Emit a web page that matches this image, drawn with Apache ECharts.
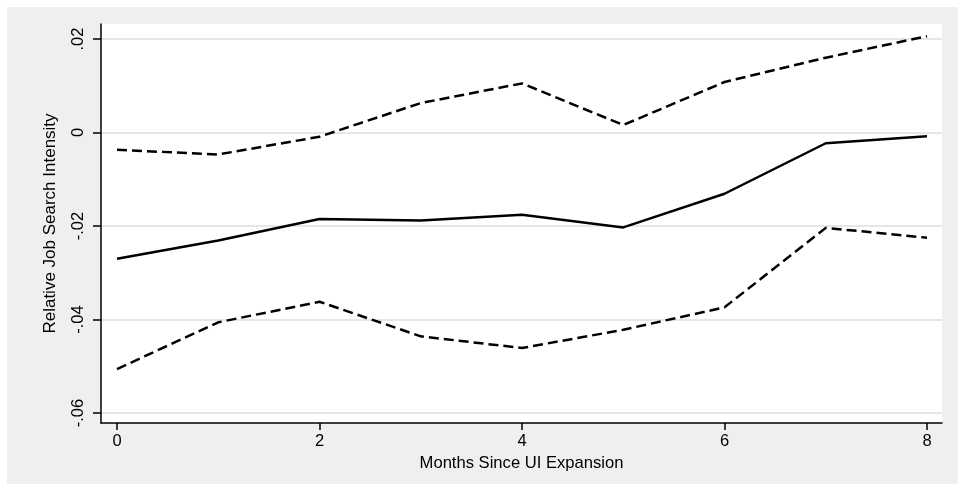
<!DOCTYPE html>
<html>
<head>
<meta charset="utf-8">
<script src="https://cdn.jsdelivr.net/npm/echarts@6/dist/echarts.min.js"></script>
<style>
  html, body { margin: 0; padding: 0; background: #ffffff; }
  #chart { width: 958px; height: 484px; }
</style>
</head>
<body>
<div id="chart"></div>
<script>
// Months since the UI expansion (x values)
const months = [0, 1, 2, 3, 4, 5, 6, 7, 8];
// Point estimate of relative job search intensity
const estimate = [-0.0270, -0.0231, -0.0185, -0.0188, -0.0176, -0.0203, -0.0131, -0.0023, -0.0008];
// Upper and lower confidence bounds
const upperBound = [-0.0037, -0.0047, -0.0009, 0.0063, 0.0105, 0.0016, 0.0108, 0.0160, 0.0206];
const lowerBound = [-0.0506, -0.0406, -0.0362, -0.0436, -0.0461, -0.0422, -0.0374, -0.0204, -0.0225];
// Axis tick values
const yTicks = [-0.06, -0.04, -0.02, 0, 0.02];
const xTicks = [0, 2, 4, 6, 8];

function pairs(ys) {
  return months.map((m, i) => [m, ys[i]]);
}

// Stata-style number labels: ".02", "-.04", "0"
function fmtY(v) {
  const r = Math.round(v * 100) / 100;
  if (r === 0) return '0';
  const s = Math.abs(r).toFixed(2).replace(/^0/, '');
  return (r < 0 ? '-' : '') + s;
}

const FONT = 'Liberation Sans, Arial, sans-serif';
const chart = echarts.init(document.getElementById('chart'), null, { renderer: 'canvas' });

chart.setOption({
  backgroundColor: '#ffffff',
  animation: false,
  graphic: [{
    type: 'rect',
    z: -10,
    shape: { x: 7, y: 7, width: 951, height: 477 },
    style: { fill: '#efefef' }
  }],
  grid: {
    left: 101, right: 16, top: 24, bottom: 61,
    show: true, backgroundColor: '#ffffff', borderWidth: 0
  },
  xAxis: {
    type: 'value',
    min: -0.158, max: 8.148,
    name: 'Months Since UI Expansion',
    nameLocation: 'middle',
    nameGap: 28,
    nameTextStyle: { fontFamily: FONT, fontSize: 16.6, color: '#000' },
    axisLine: { show: true, onZero: false, lineStyle: { color: '#000', width: 1.5 } },
    axisTick: { show: true, length: 7, customValues: xTicks, lineStyle: { color: '#000', width: 1.5 } },
    axisLabel: { customValues: xTicks, margin: 10, fontFamily: FONT, fontSize: 16.5, color: '#000' },
    splitLine: { show: false }
  },
  yAxis: {
    type: 'value',
    min: -0.06214, max: 0.02321,
    name: 'Relative Job Search Intensity',
    nameLocation: 'middle',
    nameGap: 42,
    nameTextStyle: { fontFamily: FONT, fontSize: 17, color: '#000' },
    axisLine: { show: true, onZero: false, lineStyle: { color: '#000', width: 1.5 } },
    axisTick: { show: true, length: 8, customValues: yTicks, lineStyle: { color: '#000', width: 1.5 } },
    axisLabel: {
      customValues: yTicks, rotate: 90, margin: 14,
      fontFamily: FONT, fontSize: 16.5, color: '#000',
      formatter: fmtY
    },
    splitLine: { show: true, lineStyle: { color: '#e6e6e6', width: 2 } }
  },
  series: [
    {
      name: 'upper', type: 'line', data: pairs(upperBound),
      symbol: 'none', lineStyle: { color: '#000', width: 2.5, type: [10, 5] }
    },
    {
      name: 'estimate', type: 'line', data: pairs(estimate),
      symbol: 'none', lineStyle: { color: '#000', width: 2.5, type: 'solid' }
    },
    {
      name: 'lower', type: 'line', data: pairs(lowerBound),
      symbol: 'none', lineStyle: { color: '#000', width: 2.5, type: [10, 5] }
    }
  ]
});
</script>
</body>
</html>
